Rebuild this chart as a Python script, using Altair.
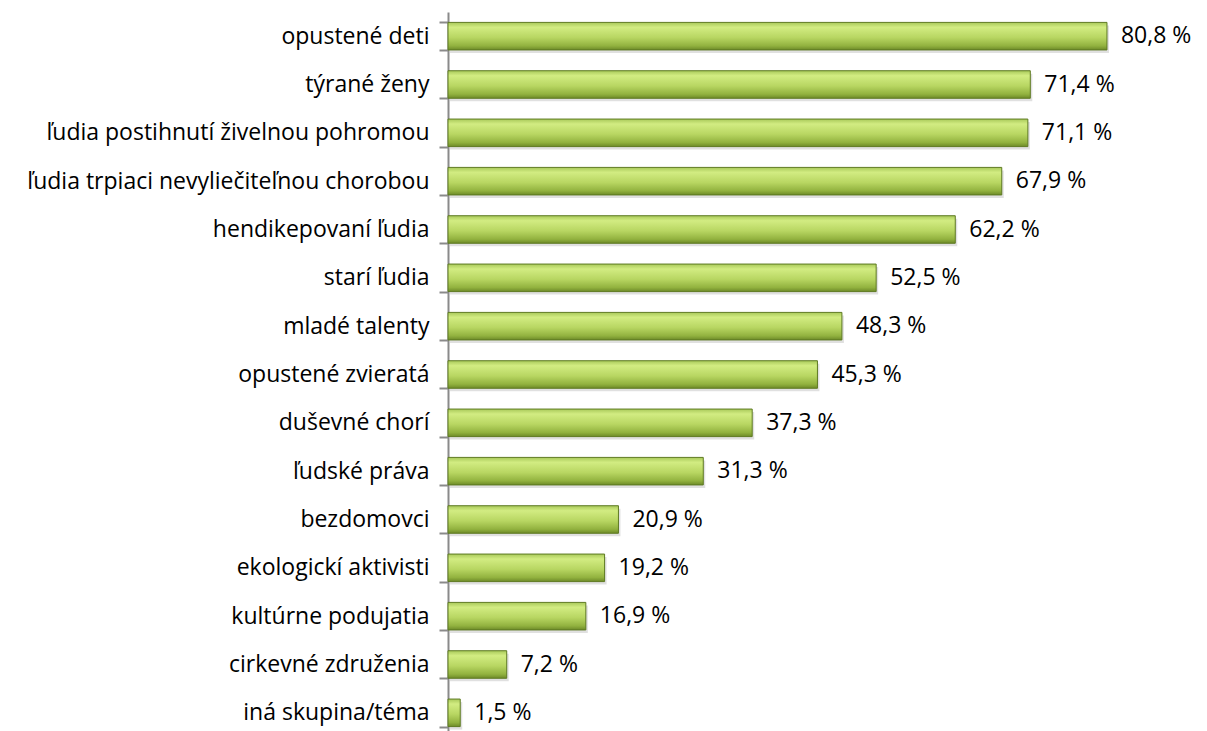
import altair as alt
import pandas as pd

categories = [
    "opustené deti", "týrané ženy", "ľudia postihnutí živelnou pohromou",
    "ľudia trpiaci nevyliečiteľnou chorobou", "hendikepovaní ľudia", "starí ľudia",
    "mladé talenty", "opustené zvieratá", "duševné chorí", "ľudské práva",
    "bezdomovci", "ekologickí aktivisti", "kultúrne podujatia",
    "cirkevné združenia", "iná skupina/téma",
]
values = [80.8, 71.4, 71.1, 67.9, 62.2, 52.5, 48.3, 45.3, 37.3, 31.3, 20.9, 19.2, 16.9, 7.2, 1.5]
labels = [f"{v:.1f}".replace(".", ",") + " %" for v in values]

df = pd.DataFrame({"cat": categories, "val": values, "lab": labels})

FONT = "Open Sans"
FS = 23

y = alt.Y("cat:N", sort=categories, title=None,
          scale=alt.Scale(paddingInner=0.43, paddingOuter=0.215),
          axis=alt.Axis(labelFont=FONT, labelFontSize=FS, labelColor="#000000",
                        labelPadding=10, ticks=True, tickBand="extent", tickSize=9,
                        tickWidth=2, domainWidth=2,
                        tickColor="#8a8a8a", domainColor="#8a8a8a", labelLimit=500))
x = alt.X("val:Q", scale=alt.Scale(domain=[0, 90]), axis=None)

grad = alt.Gradient(
    gradient="linear",
    stops=[alt.GradientStop(color="#a9c95a", offset=0),
           alt.GradientStop(color="#d2ec82", offset=0.18),
           alt.GradientStop(color="#b8d662", offset=0.55),
           alt.GradientStop(color="#92b23f", offset=0.85),
           alt.GradientStop(color="#6d8a28", offset=1)],
    x1=0, x2=0, y1=0, y2=1,
)

shadow = alt.Chart(df).mark_bar(color="#000000", opacity=0.12, yOffset=3, xOffset=2).encode(x=x, y=y)
bars = alt.Chart(df).mark_bar(color=grad, stroke="#5e7a22", strokeWidth=1).encode(x=x, y=y)
text = alt.Chart(df).mark_text(align="left", dx=14, font=FONT, fontSize=FS, color="#000000").encode(
    x=x, y=y, text="lab:N")

chart = (shadow + bars + text).properties(
    width=734, height=725,
    autosize=alt.AutoSizeParams(type="none"),
    padding={"left": 440, "top": 4, "right": 10, "bottom": 0},
).configure(background="white").configure_view(stroke=None, strokeWidth=0)

chart.save("out.html", embed_options={"renderer": "svg", "actions": False})
